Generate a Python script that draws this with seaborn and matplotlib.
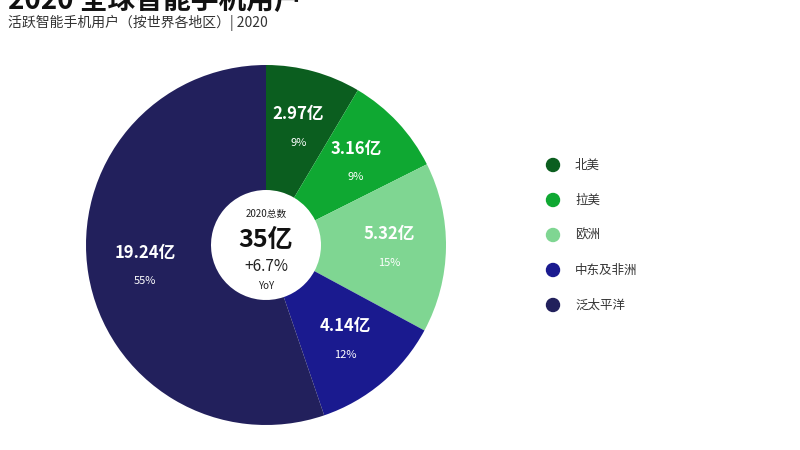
import matplotlib
matplotlib.use("Agg")
import matplotlib.pyplot as plt
import seaborn as sns
import numpy as np

regions = ["北美", "拉美", "欧洲", "中东及非洲", "泛太平洋"]
values = [2.97, 3.16, 5.32, 4.14, 19.24]
pcts = ["9%", "9%", "15%", "12%", "55%"]
colors = ["#0b5e1f", "#0fa832", "#7fd692", "#1a1a8f", "#22205c"]

sns.set_theme(style="white")
plt.rcParams["font.family"] = "Noto Sans CJK SC"
fig = plt.figure(figsize=(8, 4.5), dpi=100)
fig.patch.set_facecolor("white")
ax = fig.add_axes([(266 - 180)/800, 1 - (245+180)/450, 360/800, 360/450])
inner = 55/180
ax.pie(values, colors=colors, startangle=90, counterclock=False,
       wedgeprops=dict(width=1 - inner, edgecolor="none"), radius=1)
ax.set_xlim(-1, 1); ax.set_ylim(-1, 1)
ax.set_aspect("equal")
total = sum(values)
cum = 0
rlab = (1 + inner) / 2 + 0.03
for v, p in zip(values, pcts):
    mid = 90 - (cum + v/2) / total * 360
    cum += v
    x, y = rlab*np.cos(np.radians(mid)), rlab*np.sin(np.radians(mid))
    ax.text(x, y + 0.07, f"{v:.2f}亿", ha="center", va="center", color="white", fontsize=12, fontweight="bold")
    ax.text(x, y - 0.09, p, ha="center", va="center", color="white", fontsize=8)
ax.text(0, 0.17, "2020总数", ha="center", va="center", fontsize=7, color="#222")
ax.text(0, 0.03, "35亿", ha="center", va="center", fontsize=18, fontweight="bold", color="#111")
ax.text(0, -0.12, "+6.7%", ha="center", va="center", fontsize=11, color="#222")
ax.text(0, -0.23, "YoY", ha="center", va="center", fontsize=7, color="#222")

fig.text(8/800, 1 - 9/450, "2020 全球智能手机用户", fontsize=20, fontweight="bold", va="baseline", color="#111")
fig.text(8/800, 1 - 23/450, "活跃智能手机用户（按世界各地区）| 2020", fontsize=10, va="center", color="#333")

for i, (r, c) in enumerate(zip(regions, colors)):
    yy = 1 - (165 + 35*i)/450
    fig.patches.append(matplotlib.patches.Ellipse((553/800, yy), 13/800, 13/450, transform=fig.transFigure, color=c))
    fig.text(575/800, yy, r, fontsize=9, va="center", color="#333")

fig.savefig("out.png", dpi=100)
